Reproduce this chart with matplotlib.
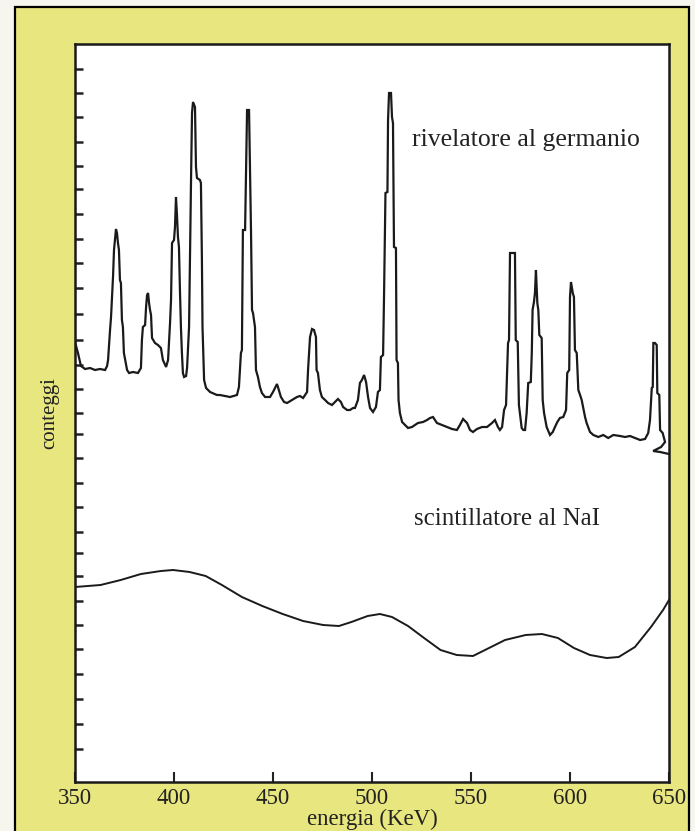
import matplotlib
matplotlib.use('Agg')
import matplotlib.pyplot as plt
from matplotlib.patches import Rectangle

plt.rcParams['font.family'] = ['Liberation Serif', 'DejaVu Serif']

# spettro del rivelatore al germanio (energia in keV, conteggi in unita arbitrarie)
ge_kev = [350.0, 351.5, 353.0, 355.1, 357.6, 360.1, 362.6, 365.2, 366.2, 366.7,
          367.7, 368.2, 369.2, 369.7, 370.2, 370.7, 371.2, 371.7, 372.2, 372.7,
          373.2, 373.7, 374.2, 374.7, 376.3, 377.3, 379.3, 381.8, 383.3, 383.8,
          384.3, 385.4, 385.9, 386.4, 386.9, 387.4, 387.9, 388.4, 388.9, 390.4,
          391.9, 393.4, 394.4, 396.0, 397.0, 398.0, 398.5, 399.0, 400.0, 400.5,
          401.0, 401.5, 402.0, 402.5, 403.0, 403.5, 404.0, 404.5, 405.1, 406.1,
          406.6, 407.6, 408.1, 408.6, 409.1, 409.6, 410.6, 411.1, 411.6, 413.1,
          413.6, 414.1, 414.4, 414.6, 415.2, 416.2, 418.2, 421.7,
          423.2, 428.3, 431.8, 432.8, 433.8, 434.3, 434.8, 435.9, 436.4, 436.9,
          437.9, 438.4, 438.9, 439.4, 439.9, 440.9, 441.4, 442.4, 443.4, 444.4,
          446.0, 448.5, 450.0, 452.0, 452.5, 454.0, 455.6, 457.1, 459.6, 462.1,
          463.6, 465.2, 467.2, 467.7, 468.2, 468.7, 469.7, 470.7, 471.7, 472.0,
          472.7, 473.7, 474.7, 476.3, 477.8, 479.8, 481.3, 482.8, 484.3, 485.4,
          487.4, 488.9, 490.4,
          491.4, 492.9, 493.9, 494.9, 496.0, 497.0, 498.0, 499.0, 500.5, 502.0,
          503.0, 504.0, 504.5, 505.6, 506.1, 506.8, 507.8, 508.1, 508.6, 509.6,
          510.1, 510.6, 511.1, 512.1, 512.4, 513.1, 513.4, 514.1, 515.2, 516.7,
          518.2, 520.2, 521.7, 523.2, 525.8, 527.8, 529.3, 530.8, 532.8, 535.4,
          537.9, 540.4, 542.9, 544.4, 546.0, 548.0, 549.5, 551.0, 553.0, 555.6,
          558.1, 560.6, 562.1, 563.6, 564.6, 565.7, 566.7, 567.7, 568.7, 569.2,
          569.7, 572.2, 572.6, 573.6, 574.2, 574.7,
          575.6, 576.4, 577.3, 578.1, 578.9, 580.2, 580.7, 581.1, 581.8, 582.3,
          582.8, 583.5, 584.0, 584.5, 585.7, 586.2, 586.9, 588.2, 589.9, 591.3,
          592.4, 593.6, 594.9, 596.6, 598.0, 598.6, 599.6, 600.0, 600.5, 601.4,
          602.0, 602.5, 603.4, 604.2, 605.1, 605.9, 606.7, 607.6, 608.4, 610.1,
          611.8, 614.3, 616.8, 619.3, 621.9, 625.3, 627.8, 630.3, 632.8, 635.4,
          637.9, 639.5, 640.4, 641.3, 641.8, 642.1, 642.9, 643.8, 644.1, 645.1,
          645.5, 646.8, 648.0, 646.0, 642.0, 645.5, 650.0]
ge_counts = [440, 429, 416, 413, 414, 412, 413, 412, 416, 422,
             452, 465, 505, 532, 542, 553, 549, 539, 532, 502,
             499, 462, 455, 429, 412, 409, 410, 409, 414, 442,
             455, 457, 475, 487, 489, 479, 472, 467, 444, 439,
             437, 434, 422, 415, 422, 459, 482, 539, 542, 555,
             585, 567, 545, 535, 492, 455, 429, 409, 405, 406,
             414, 455, 532, 602, 669, 680, 675, 615, 604, 602,
             599, 522, 455, 442, 402, 394, 390, 387,
             387, 385, 387, 395, 429, 432, 552, 552, 609, 672,
             672, 609, 550, 472, 469, 455, 412, 405, 395, 389,
             385, 385, 390, 398, 395, 385, 380, 379, 382, 385,
             386, 384, 390, 412, 429, 445, 453, 452, 445, 412,
             409, 392, 385, 382, 379, 377, 380, 383, 380, 375,
             372, 372, 374,
             374, 382, 399, 402, 407, 400, 385, 374, 370, 375,
             390, 392, 425, 427, 489, 589, 590, 662, 689, 689,
             665, 659, 535, 534, 422, 419, 382, 369, 360, 357,
             354, 355, 357, 359, 360, 362, 364, 365, 359, 357,
             355, 353, 352, 357, 363, 359, 352, 350, 353, 355,
             355, 359, 362, 355, 352, 355, 372, 377, 439, 442,
             529, 529, 442, 440, 377, 369,
             354, 352, 352, 369, 399, 400, 429, 472, 480, 489,
             512, 479, 472, 447, 444, 382, 369, 355, 347, 350,
             355, 360, 364, 365, 372, 409, 412, 485, 500, 489,
             485, 432, 429, 392, 387, 382, 374, 365, 359, 350,
             347, 345, 347, 344, 347, 346, 345, 346, 344, 342,
             343, 349, 362, 394, 395, 439, 439, 437, 389, 387,
             352, 349, 340, 335, 331, 330, 328]

# spettro dello scintillatore al NaI
nai_kev = [350.0, 362.9, 373.1, 383.3, 393.4, 399.5, 407.9, 416.0, 424.2, 434.3,
           444.6, 454.9, 465.2, 475.3, 483.3, 489.6, 497.8, 504.0, 510.1, 518.2,
           526.3, 534.6, 542.8, 551.0, 559.1, 567.2, 577.6, 585.8, 593.9, 602.0,
           610.1, 618.5, 624.6, 632.8, 640.9, 647.0, 650.0]
nai_counts = [195, 197, 202, 208, 211, 212, 210, 206, 197, 185,
              176, 168, 161, 157, 156, 160, 166, 168, 165, 156,
              144, 132, 127, 126, 134, 142, 147, 148, 144, 134,
              127, 124, 125, 135, 155, 172, 182]

x_ticks = [350, 400, 450, 500, 550, 600, 650]
y_ticks = [33, 58, 83, 108, 133, 157, 181, 206, 229, 250, 275, 299, 324, 348,
           369, 393, 417, 442, 468, 494, 519, 543, 568, 593, 616, 640, 665, 689, 713]

yellow = '#e8e67f'

fig = plt.figure(figsize=(6.95, 8.31), dpi=100, facecolor='#f6f5ee')
# cornice gialla
fig.patches.append(Rectangle((15 / 695, -0.02), 674 / 695, 824 / 831 + 0.02,
                             transform=fig.transFigure, facecolor=yellow,
                             edgecolor='black', linewidth=1.6, zorder=-10))

ax = fig.add_axes([75 / 695, 49 / 831, 594 / 695, 738 / 831])
ax.set_zorder(1)
ax.set_facecolor('white')

ax.plot(ge_kev, ge_counts, color='#1a1a1a', lw=1.6, solid_joinstyle='miter')
ax.plot(nai_kev, nai_counts, color='#1a1a1a', lw=1.4)

ax.text(520.2, 636, 'rivelatore al germanio', fontsize=18.5, va='baseline', color='#222222')
ax.text(521.2, 257, 'scintillatore al NaI', fontsize=18, va='baseline', color='#222222')

ax.set_xlim(350, 650)
ax.set_ylim(0, 738)
ax.set_xticks(x_ticks)
ax.set_yticks(y_ticks)
ax.set_yticklabels([])
ax.tick_params(axis='x', direction='in', length=7, width=1.5, labelsize=16.5, pad=4, colors='#222222')
ax.tick_params(axis='y', direction='in', length=6, width=1.8, colors='#222222')
for s in ax.spines.values():
    s.set_linewidth(1.8)
    s.set_color('#1a1a1a')

ax.set_xlabel('energia (KeV)', fontsize=16.5, labelpad=0, color='#222222')
ax.set_ylabel('conteggi', fontsize=15, labelpad=8, color='#222222')

fig.savefig('out.png', dpi=100, facecolor=fig.get_facecolor())
